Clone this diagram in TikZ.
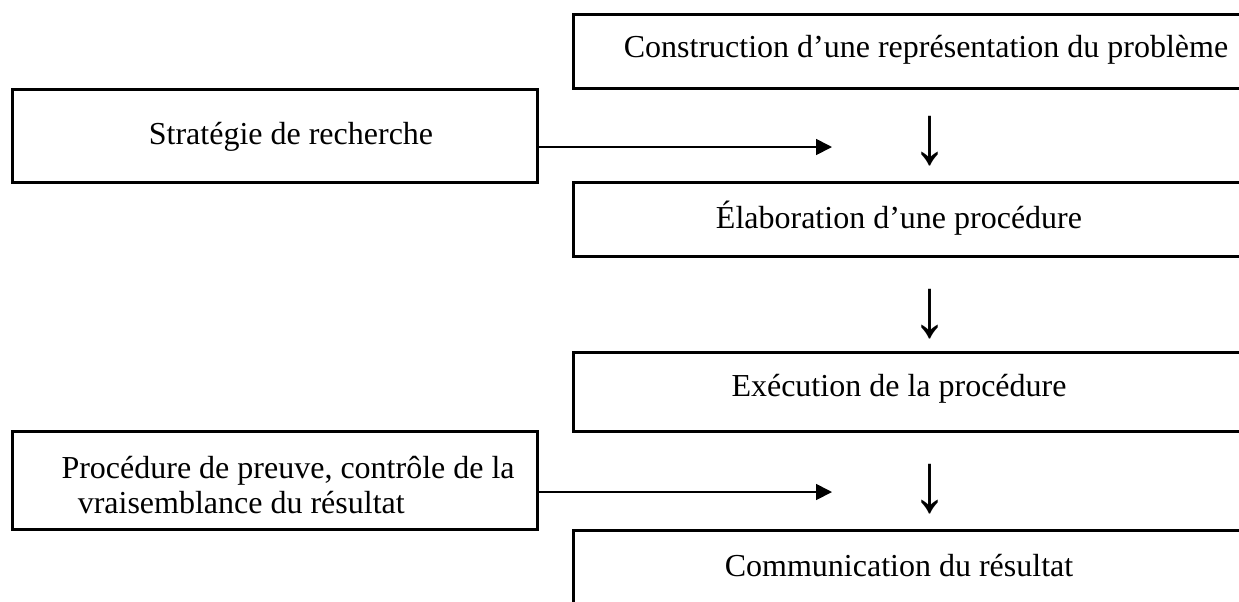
\documentclass[tikz,border=0pt]{standalone}
\usepackage{fontspec}
\setmainfont{Liberation Serif}
\usetikzlibrary{arrows.meta}
\begin{document}
\begin{tikzpicture}[x=0.4pt,y=-0.4pt,
  box/.style={draw, line width=1pt, inner sep=0pt, anchor=north west},
  lbl/.style={inner sep=0pt, font=\fontsize{12.8}{13.8}\selectfont},
  dn/.style={inner sep=0pt, font=\fontsize{28}{28}\selectfont, yscale=1.2},
  conn/.style={line width=0.7pt, -{Triangle[length=6.4pt,width=6.4pt]}}]
\useasboundingbox (0,0) rectangle (1239,601);
% right column boxes
\node[box, minimum width=275.2pt, minimum height=29.6pt] (r1) at (572,13) {};
\node[box, minimum width=275.2pt, minimum height=29.6pt] (r2) at (572,181) {};
\node[box, minimum width=275.2pt, minimum height=31.6pt] (r3) at (572,351) {};
\node[box, minimum width=275.2pt, minimum height=36.4pt] (r4) at (572,529) {};
% left boxes
\node[box, minimum width=210pt, minimum height=37.2pt] (l1) at (11,88) {};
\node[box, minimum width=210pt, minimum height=39.2pt] (l2) at (11,430) {};
% texts
\node[lbl] (t1) at (926,50) {Construction d’une représentation du problème};
\node[lbl] (t2) at (899,218) {Élaboration d’une procédure};
\node[lbl] (t3) at (899,389) {Exécution de la procédure};
\node[lbl] (t4) at (899,566) {Communication du résultat};
\node[lbl] (tl1) at (291,137) {Stratégie de recherche};
\node[lbl, anchor=west, align=left] (tl2) at (61,485) {Procédure de preuve, contrôle de la\\\hspace*{6.5pt}vraisemblance du résultat};
% down arrows (text glyphs)
\node[dn] (d1) at (930,141) {↓};
\node[dn] (d2) at (930,314) {↓};
\node[dn] (d3) at (930,489) {↓};
% connectors
\coordinate (e1) at (832,147);
\coordinate (e2) at (832,492);
\draw[conn] (l1.east |- e1) -- (e1);
\draw[conn] (l2.east |- e2) -- (e2);
\end{tikzpicture}
\end{document}
